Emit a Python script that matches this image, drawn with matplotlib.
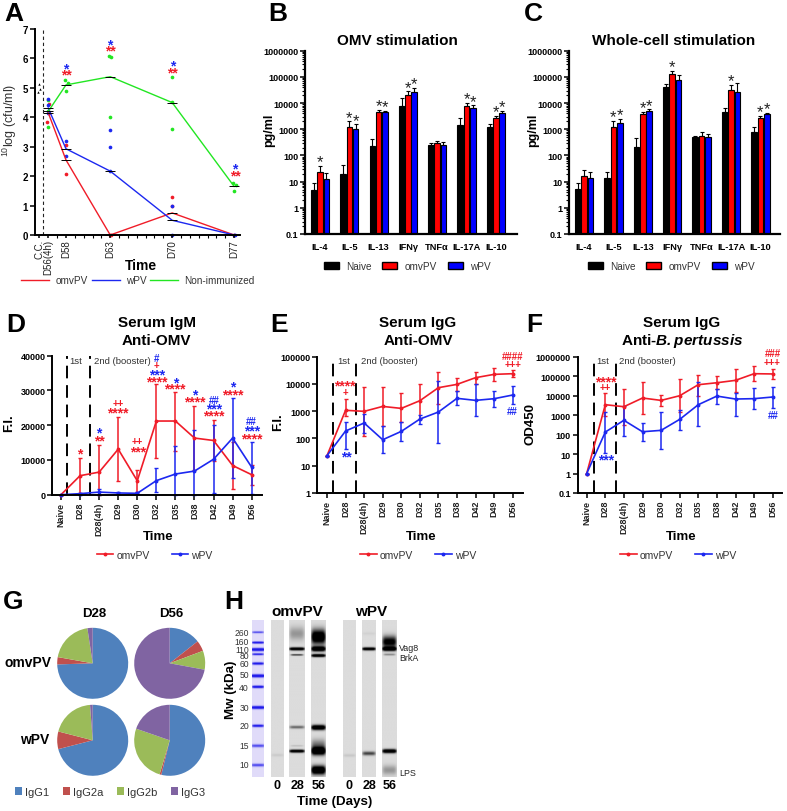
import numpy as np
import matplotlib
matplotlib.use('Agg')
import matplotlib.pyplot as plt
from matplotlib.lines import Line2D
from matplotlib.patches import Patch

plt.rcParams['font.family'] = ['Liberation Sans', 'DejaVu Sans']
plt.rcParams['mathtext.fontset'] = 'custom'
plt.rcParams['mathtext.rm'] = 'Liberation Sans'
plt.rcParams['mathtext.bfit'] = 'Liberation Sans:italic:bold'
plt.rcParams['mathtext.default'] = 'regular'
plt.rcParams['axes.unicode_minus'] = False

RED = '#f01c28'
BLUE = '#1c28f0'
GREEN = '#22e622'

# panel A, bacterial load
a_days = [56, 58, 63, 70, 77]
a_omv = [4.15, 2.55, 0, 0.75, 0]
a_wpv = [4.31, 2.93, 2.17, 0.5, 0]
a_non = [4.2, 5.1, 5.38, 4.5, 1.65]
a_cc_x = [54.9, 54.8, 55.1]
a_cc_y = [5.13, 4.87, 4.96]
a_omv_pts_x = [55.9, 56.1, 56.1, 58, 58, 63, 63.1, 70, 70, 77]
a_omv_pts_y = [3.85, 4.13, 4.45, 2.08, 3.05, 0, 0, 1.3, 1.0, 0]
a_wpv_pts_x = [56, 56, 56, 58, 58, 63, 63, 63, 70, 70, 77, 77.1]
a_wpv_pts_y = [4.63, 4.43, 4.15, 3.18, 2.68, 3.58, 3.0, 2.17, 1.0, 0, 0, 0]
a_non_pts_x = [56, 56, 56, 57.9, 58.2, 58, 62.9, 63.1, 63, 70, 70, 70, 76.9, 77.2, 77]
a_non_pts_y = [4.58, 4.22, 3.68, 5.27, 5.15, 4.88, 6.08, 6.05, 4.0, 5.37, 4.52, 3.6, 1.77, 1.7, 1.48]

# panels B and C, cytokines
cytokines = ['IL-4', 'IL-5', 'IL-13', 'IFNγ', 'TNFα', 'IL-17A', 'IL-10']
log_ticks = [0.1, 1, 10, 100, 1000, 10000, 100000, 1000000]
log_labels = ['0.1', '1', '10', '100', '1000', '10000', '100000', '1000000']
b_naive = [4.8, 19, 222, 7500, 255, 1400, 1215]
b_omv = [22.6, 1215, 4530, 20000, 300, 7400, 2800]
b_wpv = [12.6, 985, 4400, 27000, 245, 6300, 4100]
b_naive_top = [8.6, 44, 420, 15500, 310, 2600, 1520]
b_omv_top = [40, 2000, 5400, 28500, 370, 10500, 3200]
b_wpv_top = [22, 1560, 5200, 39000, 335, 8200, 5100]
b_omv_sig = [1, 1, 1, 1, 0, 1, 1]
b_wpv_sig = [0, 1, 1, 1, 0, 1, 1]
c_naive = [5.2, 13.3, 215, 39600, 506, 4400, 800]
c_omv = [16.3, 1170, 3700, 128000, 550, 30500, 2600]
c_wpv = [13.3, 1660, 4800, 73000, 520, 26000, 3800]
c_naive_top = [8.6, 24, 480, 54000, 530, 6600, 1170]
c_omv_top = [26.7, 2150, 4600, 167000, 800, 50000, 3300]
c_wpv_top = [23, 2440, 5800, 120000, 680, 56000, 4250]
c_omv_sig = [0, 1, 1, 1, 0, 1, 1]
c_wpv_sig = [0, 1, 1, 0, 0, 0, 1]

# panels D, E, F, serum titres
timepoints = ['Naive', 'D28', 'D28(4h)', 'D29', 'D30', 'D32', 'D35', 'D38', 'D42', 'D49', 'D56']
d_omv = [0, 5470, 6500, 13100, 4000, 21200, 21200, 16300, 15600, 8400, 5750]
d_omv_hi = [0, 10500, 14400, 22500, 7200, 32000, 29600, 25600, 21600, 15100, 8600]
d_omv_lo = [0, 440, 0, 4000, 800, 10500, 12600, 7000, 9600, 1700, 2900]
d_wpv = [0, 300, 750, 500, 400, 4050, 5950, 6800, 10200, 16300, 7900]
d_wpv_hi = [0, 600, 1600, 800, 700, 7800, 14100, 18700, 20000, 27900, 15300]
d_wpv_lo = [0, 0, 0, 200, 100, 700, 0, 0, 500, 4800, 200]
e_omv = [23.4, 1080, 990, 1500, 1270, 2430, 7300, 9660, 17000, 22500, 23800]
e_omv_hi = [23.4, 2800, 7700, 7700, 4500, 10200, 28000, 17000, 28000, 38400, 33400]
e_omv_lo = [23.4, 650, 120, 295, 390, 515, 1840, 5500, 10200, 13000, 18000]
e_wpv = [23.4, 188, 370, 90, 182, 515, 935, 2970, 2500, 2880, 3930]
e_wpv_hi = [23.4, 413, 810, 280, 413, 745, 12400, 5500, 10000, 5640, 8600]
e_wpv_lo = [23.4, 42, 155, 28.5, 81, 340, 68, 1640, 650, 1425, 1800]
f_omv = [1, 3430, 2700, 7550, 5700, 9900, 36500, 46000, 61000, 134000, 130000]
f_omv_hi = [1, 13100, 20900, 52000, 10800, 74000, 119000, 100000, 224000, 331000, 224000]
f_omv_lo = [1, 860, 310, 1090, 3050, 1390, 9900, 21800, 15300, 54000, 68000]
f_wpv = [1, 135, 540, 140, 165, 605, 3430, 9500, 6700, 7000, 8500]
f_wpv_hi = [1, 1390, 3050, 378, 1440, 1830, 48000, 21800, 13600, 23700, 28800]
f_wpv_lo = [1, 11.8, 84.5, 49, 18, 172, 265, 3700, 900, 2050, 2400]

# panel G, isotype shares
isotypes = ['IgG1', 'IgG2a', 'IgG2b', 'IgG3']
iso_colors = ['#4F81BD', '#C0504D', '#9BBB59', '#8064A2']
g_omv_d28 = [74.5, 3.3, 19.8, 2.4]
g_omv_d56 = [14.4, 4.9, 8.6, 72.1]
g_wpv_d28 = [71, 8, 19.8, 1.2]
g_wpv_d56 = [53.8, 0.8, 25.7, 19.7]

# panel H, gel bands as (position, strength, spread)
mw_labels = ['260', '160', '110', '80', '60', '50', '40', '30', '20', '15', '10']
mw_label_pos = [176, 202, 226, 245, 270, 302, 340, 400, 456, 514, 573]
ladder_bands = [(176, .5, 2), (207, 1, 2), (228, 1, 3), (242, .7, 2), (270, .8, 2.5), (307, 1, 3),
                (340, .9, 2.5), (402, .9, 3), (457, .8, 2.5), (517, .5, 3), (575, .5, 3)]
omv0_bands = [(545, .05, 3)]
omv28_bands = [(180, .2, 14), (226, 1, 3), (244, .55, 1.5), (461, .35, 3), (517, .1, 1.5), (533, .95, 3)]
omv56_bands = [(190, .9, 15), (226, 1, 5), (246, .95, 3), (462, 1, 5), (533, 1, 8), (515, .3, 12), (590, 1, 9)]
wpv0_bands = [(546, .06, 3)]
wpv28_bands = [(180, .03, 3), (226, .95, 3), (540, .45, 4)]
wpv56_bands = [(205, .7, 12), (226, 1, 4), (243, .25, 2), (533, .95, 4), (590, .2, 10)]


fig = plt.figure(figsize=(7.87, 8.12), dpi=100)


def box(left, top, right, bottom):
    return [left / 787, 1 - bottom / 812, (right - left) / 787, (bottom - top) / 812]


def fig_xy(x, y):
    return (x / 787, 1 - y / 812)


def style(ax, lw=1.4):
    ax.spines['top'].set_visible(False)
    ax.spines['right'].set_visible(False)
    ax.spines['left'].set_linewidth(lw)
    ax.spines['bottom'].set_linewidth(lw)
    ax.patch.set_alpha(0)
    ax.tick_params(axis='both', which='major', width=1.1, length=3.5, pad=1.5)


def cyto_panel(rect, center0, step, naive, omv, wpv, naive_top, omv_top, wpv_top, omv_sig, wpv_sig, legend_x):
    ax = fig.add_axes(box(*rect))
    style(ax, 1.6)
    x = np.arange(len(cytokines))
    w = 0.215
    ax.set_yscale('log')
    for off, vals, tops, col in [(-w, naive, naive_top, 'black'), (0, omv, omv_top, 'red'), (w, wpv, wpv_top, 'blue')]:
        vals = np.array(vals)
        ax.bar(x + off, vals, width=0.19, color=col, edgecolor='black', linewidth=0.8)
        ax.errorbar(x + off, vals, yerr=[np.zeros(7), np.array(tops) - vals], fmt='none',
                    ecolor='black', elinewidth=0.8, capsize=1.3, capthick=0.8)
    for i in range(7):
        if omv_sig[i]:
            ax.annotate('*', (i, omv_top[i]), xytext=(0, -2.5), textcoords='offset points',
                        ha='center', va='bottom', fontsize=12, color='#222222')
        if wpv_sig[i]:
            ax.annotate('*', (i + w, wpv_top[i]), xytext=(0, -2.5), textcoords='offset points',
                        ha='center', va='bottom', fontsize=12, color='#222222')
    ax.set_xlim((rect[0] - center0) / step, (rect[2] - center0) / step)
    ax.set_ylim(0.1, 1000000)
    ax.set_yticks(log_ticks)
    ax.set_yticklabels(log_labels, fontsize=6.5, fontweight='bold')
    ax.yaxis.set_minor_locator(matplotlib.ticker.LogLocator(base=10, subs=np.arange(2, 10), numticks=12))
    ax.yaxis.set_minor_formatter(matplotlib.ticker.NullFormatter())
    ax.tick_params(axis='y', which='minor', width=0.8, length=2)
    ax.set_xticks(x)
    ax.set_xticklabels(cytokines, fontsize=6.7, fontweight='bold')
    ax.tick_params(axis='x', length=0, pad=6)
    handles = [Patch(facecolor=c, edgecolor='black', label=n)
               for c, n in zip(['black', 'red', 'blue'], ['Naive', 'omvPV', 'wPV'])]
    ax.legend(handles=handles, ncol=3, frameon=False, fontsize=7.2, loc='center',
              bbox_to_anchor=fig_xy(legend_x, 267), bbox_transform=fig.transFigure,
              handlelength=1.5, handleheight=0.75, handletextpad=0.7, columnspacing=1.1,
              labelcolor='#333333')
    return ax


def titre_panel(rect, x0, step, scale, ylim, yticks, ylabels, omv, omv_lo, omv_hi, wpv, wpv_lo, wpv_hi, dash, legend_x):
    ax = fig.add_axes(box(*rect))
    style(ax)
    x = np.arange(len(timepoints))
    if scale == 'log':
        ax.set_yscale('log')
    for vals, lo, hi, col in [(omv, omv_lo, omv_hi, RED), (wpv, wpv_lo, wpv_hi, BLUE)]:
        vals = np.array(vals, dtype=float)
        ax.errorbar(x, vals, yerr=[np.maximum(vals - np.array(lo), 0), np.maximum(np.array(hi) - vals, 0)],
                    color=col, lw=1.2, elinewidth=1.1, capsize=1.3, capthick=1,
                    marker='o', markersize=1.8, clip_on=False)
    for d in dash:
        ax.plot([d, d], ylim, color='black', lw=1.4, dashes=(6.5, 3.5))
    ax.set_xlim((rect[0] - x0) / step, (rect[2] - x0) / step)
    ax.set_ylim(*ylim)
    ax.set_yticks(yticks)
    ax.set_yticklabels(ylabels, fontsize=6.5, fontweight='bold')
    ax.minorticks_off()
    ax.set_xticks(x)
    ax.set_xticklabels(timepoints, rotation=90, fontsize=6.5, fontweight='bold', color='#222222')
    handles = [Line2D([], [], color=RED, lw=1.2, marker='o', markersize=1.8, label='omvPV'),
               Line2D([], [], color=BLUE, lw=1.2, marker='o', markersize=1.8, label='wPV')]
    ax.legend(handles=handles, ncol=2, frameon=False, fontsize=7.5, loc='center',
              bbox_to_anchor=fig_xy(legend_x, 556), bbox_transform=fig.transFigure,
              handlelength=1.6, handletextpad=0.3, columnspacing=2.1, labelcolor='#333333')
    return ax


# A
ax_a = fig.add_axes(box(35, 30, 240, 236))
style(ax_a)
ax_a.plot(a_days, a_omv, color=RED, lw=1.0, clip_on=False)
ax_a.plot(a_days, a_wpv, color=BLUE, lw=1.0, clip_on=False)
ax_a.plot(a_days, a_non, color=GREEN, lw=1.0, clip_on=False)
ax_a.scatter(a_cc_x, a_cc_y, s=3, color='black', marker='^', linewidths=0)
ax_a.scatter(a_omv_pts_x, a_omv_pts_y, s=7, color=RED, linewidths=0, clip_on=False)
ax_a.scatter(a_non_pts_x, a_non_pts_y, s=7, color=GREEN, linewidths=0, clip_on=False)
ax_a.scatter(a_wpv_pts_x, a_wpv_pts_y, s=7, color=BLUE, linewidths=0, clip_on=False)
for series in (a_omv, a_wpv, a_non):
    ax_a.errorbar(a_days, series, xerr=0.55, fmt='none', ecolor='black', elinewidth=0.7, clip_on=False)
ax_a.axvline(55.46, color='#222222', lw=0.8, dashes=(3, 2.5))
ax_a.set_xlim(54.5, 77.66)
ax_a.set_ylim(0, 7)
ax_a.set_yticks(range(8))
ax_a.set_yticklabels([str(i) for i in range(8)], fontsize=7, fontweight='bold')
ax_a.set_xticks([55, 56, 58, 63, 70, 77])
ax_a.set_xticklabels(['C.C.', 'D56(4h)', 'D58', 'D63', 'D70', 'D77'], rotation=90, fontsize=7, color='#222222')
ax_a.set_xticks(np.arange(55, 78), minor=True)
ax_a.tick_params(axis='x', which='major', length=2.5, pad=0.5)
ax_a.tick_params(axis='x', which='minor', width=0.8, length=2)
handles_a = [Line2D([], [], color=RED, lw=1, label='omvPV'),
             Line2D([], [], color=BLUE, lw=1, label='wPV'),
             Line2D([], [], color=GREEN, lw=1, label='Non-immunized')]
ax_a.legend(handles=handles_a, ncol=3, frameon=False, fontsize=7.2, loc='center',
            bbox_to_anchor=fig_xy(138, 281), bbox_transform=fig.transFigure,
            handlelength=2.8, handletextpad=0.6, columnspacing=0.4, labelcolor='#333333')

# B, C
cyto_panel((305, 51.7, 517, 235), 320, 29.3, b_naive, b_omv, b_wpv, b_naive_top, b_omv_top, b_wpv_top,
           b_omv_sig, b_wpv_sig, 407)
cyto_panel((569, 51.7, 780, 235), 584, 29.4, c_naive, c_omv, c_wpv, c_naive_top, c_omv_top, c_wpv_top,
           c_omv_sig, c_wpv_sig, 671)

# D, E, F
titre_panel((52.3, 356.7, 261.7, 495.7), 61, 19.07, 'linear', (0, 40000), [0, 10000, 20000, 30000, 40000],
            ['0', '10000', '20000', '30000', '40000'],
            d_omv, d_omv_lo, d_omv_hi, d_wpv, d_wpv_lo, d_wpv_hi, [0.31, 1.52], 154.6)
titre_panel((317.3, 357.7, 523, 494), 327, 18.57, 'log', (1, 100000), [1, 10, 100, 1000, 10000, 100000],
            ['1', '10', '100', '1000', '10000', '100000'],
            e_omv, e_omv_lo, e_omv_hi, e_wpv, e_wpv_lo, e_wpv_hi, [0.32, 1.58], 418)
titre_panel((577.7, 357.7, 781.7, 494), 586.7, 18.6, 'log', (0.1, 1000000), log_ticks, log_labels,
            f_omv, f_omv_lo, f_omv_hi, f_wpv, f_wpv_lo, f_wpv_hi, [0.38, 1.56], 678)

# G
pie_sets = [(92.7, 664.3, g_omv_d28), (169.7, 664.3, g_omv_d56), (92.7, 741.3, g_wpv_d28), (169.7, 741.3, g_wpv_d56)]
for cx, cy, vals in pie_sets:
    ax_p = fig.add_axes(box(cx - 35.5, cy - 35.5, cx + 35.5, cy + 35.5))
    ax_p.pie(vals, colors=iso_colors, startangle=90, counterclock=False, radius=1)
    ax_p.set_xlim(-1, 1)
    ax_p.set_ylim(-1, 1)
fig.legend(handles=[Patch(facecolor=c, label=n) for c, n in zip(iso_colors, isotypes)], ncol=4, frameon=False,
           fontsize=8, loc='center', bbox_to_anchor=fig_xy(110, 793), handlelength=0.64, handleheight=0.64,
           handletextpad=0.3, columnspacing=1.2, labelcolor='#333333')

# everything placed by pixel goes on one full-figure overlay
ov = fig.add_axes([0, 0, 1, 1])
ov.axis('off')


def note(x, y, s, color='black', size=7, weight='bold', **kw):
    if '*' in s:
        y = y + 0.14 * size * 100 / 72
    kw.setdefault('ha', 'center')
    ov.text(x, y, s, color=color, fontsize=size, fontweight=weight, va='center', **kw)


def crop_notes(x0, y0, rows):
    for zx, zy, s, col in rows:
        note(x0 + zx / 3, y0 + zy / 3, s, col, 10 if '*' in s else 7)


def lane_img(bands, reach_scale=1.0):
    y = np.linspace(140, 610, 320)
    xs = np.linspace(-1, 1, 40)
    prof = np.zeros((320, 40))
    for pos, amp, spread in bands:
        reach = (0.95 if spread >= 3 else 0.8) * reach_scale
        prof += amp * 1.6 * np.exp(-((y - pos) / spread) ** 2 / 2)[:, None] * np.exp(-(xs / reach) ** 6)[None, :]
    return np.clip(prof, 0, 1)


lanes = [(270.7, 283.3, omv0_bands), (289, 305, omv28_bands), (310.7, 325.7, omv56_bands),
         (343.3, 356, wpv0_bands), (362, 376, wpv28_bands), (382, 396.3, wpv56_bands)]
for left, right, bands in lanes:
    img = 0.86 * (1 - lane_img(bands))
    ov.imshow(img, cmap='gray', vmin=0, vmax=1, extent=(left, right, 778.3, 621.7), aspect='auto',
              interpolation='bilinear')
lad = lane_img(ladder_bands, 1.25)[:, :, None]
lad_bg = np.array([0.88, 0.86, 0.98])
lad_blue = np.array([0.12, 0.1, 0.92])
ov.imshow(lad_bg * (1 - lad) + lad_blue * lad, extent=(252.3, 264.3, 778.3, 621.7), aspect='auto',
          interpolation='bilinear')
ov.set_xlim(0, 787)
ov.set_ylim(812, 0)

# panel letters
for lx, ly, s in [(4, 14, 'A'), (268, 14, 'B'), (524, 14, 'C'), (6.7, 325, 'D'), (270, 325, 'E'),
                  (526.7, 325, 'F'), (3.3, 602, 'G'), (224, 602, 'H')]:
    note(lx, ly, s, size=19, ha='left')

# titles
note(397, 41, 'OMV stimulation', size=11)
note(673.7, 41, 'Whole-cell stimulation', size=11)
note(156.7, 322.7, 'Serum IgM', size=11)
note(156.7, 341.3, 'Anti-OMV', size=11)
note(418, 322.7, 'Serum IgG', size=11)
note(418, 341.3, 'Anti-OMV', size=11)
note(681.7, 322.7, 'Serum IgG', size=11)
note(681.7, 341.3, 'Anti-$\\mathbfit{B.pertussis}$', size=11)

# axis labels
note(9.5, 120, '$^{10}$log (cfu/ml)', '#333333', 9, 'normal', rotation=90)
note(268.7, 130, 'pg/ml', size=9, rotation=90)
note(532.7, 130, 'pg/ml', size=9, rotation=90)
note(9.3, 423, 'F.I.', size=9.5, rotation=90)
note(277.7, 421.7, 'F.I.', size=9.5, rotation=90)
note(531, 424, 'OD450', size=9.5, rotation=90)
note(140.7, 266, 'Time', size=10)
note(157.7, 536.7, 'Time', size=9.5)
note(421, 536.7, 'Time', size=9.5)
note(681.3, 536.7, 'Time', size=9.5)

# 1st / booster labels
for x1, x2, y in [(76, 122.8, 362), (343.3, 389.7, 362), (602.7, 647.7, 362)]:
    note(x1, y, '1st', '#333333', 6.8, 'normal')
    note(x2, y, '2nd (booster)', '#333333', 6.8, 'normal')

# significance marks
crop_notes(0, 0, [(197, 203, '*', BLUE), (198, 222, '**', RED), (330, 130, '*', BLUE), (330, 150, '**', RED),
                  (517, 194, '*', BLUE), (517, 214, '**', RED), (703, 503, '*', BLUE), (705, 523, '**', RED)])
crop_notes(0, 300, [(240, 459, '*', RED), (296, 396, '*', BLUE), (298, 418, '**', RED), (355, 313, '++', RED),
                    (354, 335, '****', RED), (412, 426, '++', RED), (413, 453, '***', RED), (469, 176, '#', BLUE),
                    (469, 198, '+', RED), (471, 220, '***', BLUE), (470, 241, '****', RED), (527, 244, '*', BLUE),
                    (525, 262, '****', RED), (583, 282, '*', BLUE), (585, 303, '****', RED), (643, 302, '##', BLUE),
                    (642, 323, '***', BLUE), (642, 345, '****', RED), (698, 258, '*', BLUE), (697, 281, '****', RED),
                    (755, 366, '##', BLUE), (755, 389, '***', BLUE), (755, 412, '****', RED)])
crop_notes(265, 300, [(240, 253, '****', RED), (240, 278, '+', RED), (243, 467, '**', BLUE), (743, 172, '####', RED),
                      (743, 195, '+++', RED), (743, 335, '##', BLUE)])
crop_notes(520, 300, [(258, 241, '****', RED), (257, 264, '++', RED), (258, 475, '***', BLUE), (760, 163, '###', RED),
                      (757, 190, '+++', RED), (760, 347, '##', BLUE)])

# G labels
note(94.3, 613.7, 'D28', size=9.5)
note(171, 613.7, 'D56', size=9.5)
note(28, 663.3, 'omvPV', size=10)
note(35, 740, 'wPV', size=10)

# H labels
note(297.7, 611.7, 'omvPV', size=11)
note(370.7, 611.7, 'wPV', size=11)
for tx, s in [(276.7, '0'), (297.3, '28'), (318.5, '56'), (348.7, '0'), (369.7, '28'), (389.5, '56')]:
    note(tx, 786, s, size=9)
note(335, 801.7, 'Time (Days)', size=9.6)
note(230.7, 690, 'Mw (kDa)', size=9.6, rotation=90)
for pos, s in zip(mw_label_pos, mw_labels):
    note(249, 575 + pos / 3, s, '#333333', 6.2, 'normal', ha='right')
note(399, 649, 'Vag8', '#222222', 6.4, 'normal', ha='left')
note(399, 658.7, 'BrkA', '#222222', 6.4, 'normal', ha='left')
note(399, 774, 'LPS', '#222222', 6.4, 'normal', ha='left')

fig.savefig('out.png', dpi=100)
